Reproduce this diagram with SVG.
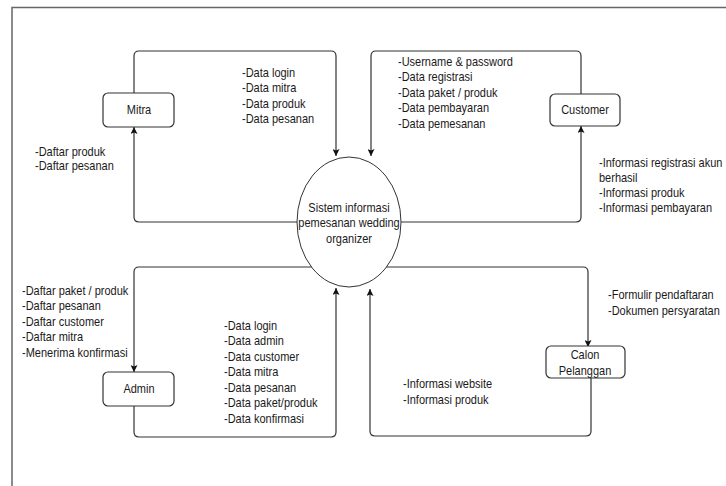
<svg xmlns="http://www.w3.org/2000/svg" width="726" height="486" viewBox="0 0 726 486">
<style>
.frame{fill:none;stroke:#666;stroke-width:1.5}
.box{fill:#fff;stroke:#333;stroke-width:1.2}
.ell{fill:#fff;stroke:#333;stroke-width:1}
.con{fill:none;stroke:#333;stroke-width:1.2}
text{font-family:"Liberation Sans",Arial,sans-serif;font-size:12.5px;fill:#1a1a1a}
.c{text-anchor:middle}
</style>
<defs>
<marker id="arr" viewBox="0 0 10 10" refX="10" refY="5" markerWidth="7" markerHeight="7" markerUnits="userSpaceOnUse" orient="auto">
<path d="M0,0 L10,5 L0,10 L2,5 Z" fill="#111"/>
</marker>
</defs>
<rect width="726" height="486" fill="#fff"/>
<path class="frame" d="M12,486 V7.5 H726"/>

<g id="connectors">
<path class="con" marker-end="url(#arr)" d="M134,93 V56 Q134,51 139,51 H331 Q336,51 336,56 V156"/>
<path class="con" marker-end="url(#arr)" d="M298,222 H139 Q134,222 134,217 V127"/>
<path class="con" marker-end="url(#arr)" d="M581,94 V56 Q581,51 576,51 H376 Q371,51 371,56 V156"/>
<path class="con" marker-end="url(#arr)" d="M400,222 H576 Q581,222 581,217 V126"/>
<path class="con" marker-end="url(#arr)" d="M313,267 H139 Q134,267 134,272 V372"/>
<path class="con" marker-end="url(#arr)" d="M134,406 V432 Q134,437 139,437 H331 Q336,437 336,432 V288"/>
<path class="con" marker-end="url(#arr)" d="M385,267 H583 Q588,267 588,272 V347"/>
<path class="con" marker-end="url(#arr)" d="M591,378 V431 Q591,436 586,436 H375 Q370,436 370,431 V289"/>
</g>

<g id="sistem">
<ellipse class="ell" cx="349" cy="222" rx="52" ry="65"/>
<g transform="translate(349,212) scale(0.88,1)">
<text class="c"><tspan x="0" y="0">Sistem informasi</tspan><tspan x="0" dy="15.5">pemesanan wedding</tspan><tspan x="0" dy="15.5">organizer</tspan></text>
</g>
</g>

<g id="mitra">
<rect class="box" x="103" y="93" width="71" height="34" rx="5"/>
<g transform="translate(139,114) scale(0.88,1)"><text class="c" x="0" y="0">Mitra</text></g>
</g>

<g id="customer">
<rect class="box" x="550" y="94" width="70" height="32" rx="5"/>
<g transform="translate(585,114) scale(0.88,1)"><text class="c" x="0" y="0">Customer</text></g>
</g>

<g id="admin">
<rect class="box" x="103" y="372" width="71" height="34" rx="5"/>
<g transform="translate(139,393) scale(0.88,1)"><text class="c" x="0" y="0">Admin</text></g>
</g>

<g id="calon">
<rect class="box" x="546" y="346" width="79" height="32" rx="5"/>
<g transform="translate(585,359) scale(0.88,1)"><text class="c"><tspan x="0" y="0">Calon</tspan><tspan x="0" dy="16">Pelanggan</tspan></text></g>
</g>

<g id="labels">
<g transform="translate(242,77) scale(0.88,1)"><text><tspan x="0" y="0">-Data login</tspan><tspan x="0" dy="15.5">-Data mitra</tspan><tspan x="0" dy="15.5">-Data produk</tspan><tspan x="0" dy="15.5">-Data pesanan</tspan></text></g>
<g transform="translate(35,156) scale(0.88,1)"><text><tspan x="0" y="0">-Daftar produk</tspan><tspan x="0" dy="14.5">-Daftar pesanan</tspan></text></g>
<g transform="translate(398,66) scale(0.88,1)"><text><tspan x="0" y="0">-Username &amp; password</tspan><tspan x="0" dy="15.5">-Data registrasi</tspan><tspan x="0" dy="15.5">-Data paket / produk</tspan><tspan x="0" dy="15.5">-Data pembayaran</tspan><tspan x="0" dy="15.5">-Data pemesanan</tspan></text></g>
<g transform="translate(599,167) scale(0.88,1)"><text><tspan x="0" y="0">-Informasi registrasi akun</tspan><tspan x="0" dy="15">berhasil</tspan><tspan x="0" dy="15">-Informasi produk</tspan><tspan x="0" dy="15">-Informasi pembayaran</tspan></text></g>
<g transform="translate(22,295) scale(0.88,1)"><text><tspan x="0" y="0">-Daftar paket / produk</tspan><tspan x="0" dy="15.5">-Daftar pesanan</tspan><tspan x="0" dy="15.5">-Daftar customer</tspan><tspan x="0" dy="15.5">-Daftar mitra</tspan><tspan x="0" dy="15.5">-Menerima konfirmasi</tspan></text></g>
<g transform="translate(224,330) scale(0.88,1)"><text><tspan x="0" y="0">-Data login</tspan><tspan x="0" dy="15.5">-Data admin</tspan><tspan x="0" dy="15.5">-Data customer</tspan><tspan x="0" dy="15.5">-Data mitra</tspan><tspan x="0" dy="15.5">-Data pesanan</tspan><tspan x="0" dy="15.5">-Data paket/produk</tspan><tspan x="0" dy="15.5">-Data konfirmasi</tspan></text></g>
<g transform="translate(608,299) scale(0.88,1)"><text><tspan x="0" y="0">-Formulir pendaftaran</tspan><tspan x="0" dy="16">-Dokumen persyaratan</tspan></text></g>
<g transform="translate(403,388) scale(0.88,1)"><text><tspan x="0" y="0">-Informasi website</tspan><tspan x="0" dy="16">-Informasi produk</tspan></text></g>
</g>
</svg>
